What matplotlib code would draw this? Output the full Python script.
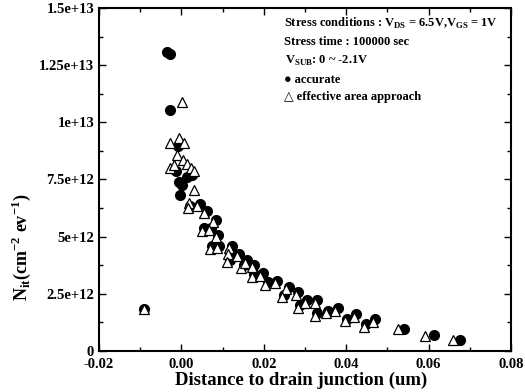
import matplotlib.pyplot as plt
from matplotlib.ticker import MultipleLocator

# accurate (filled circles)
acc_x = [-0.0035, -0.0028, -0.0028, -0.0009, -0.0014, 0.0014, 0.0026, -0.0005, 0.0002, -0.0003, -0.0091,
         0.0022, 0.0044, 0.0061, 0.0083, 0.0056, 0.0073, 0.0090, 0.0075, 0.0092, 0.0122, 0.0119, 0.0117,
         0.0141, 0.0151, 0.0160, 0.0177, 0.0177, 0.0197, 0.0209, 0.0233, 0.0260, 0.0250, 0.0284, 0.0289,
         0.0306, 0.0330, 0.0330, 0.0357, 0.0379, 0.0403, 0.0425, 0.0449, 0.0471, 0.0541, 0.0612, 0.0676]
acc_y = [13.07, 12.99, 10.54, 8.98, 7.87, 7.60, 7.70, 7.37, 7.24, 6.84, 1.84,
         6.36, 6.43, 6.14, 5.75, 5.36, 5.40, 5.09, 4.57, 4.61, 4.61, 4.35, 4.00,
         4.26, 3.74, 3.96, 3.78, 3.35, 3.39, 3.00, 3.08, 2.82, 2.47, 2.56, 1.99,
         2.21, 2.21, 1.64, 1.77, 1.86, 1.42, 1.60, 1.16, 1.38, 0.95, 0.69, 0.49]

# effective area approach (open triangles)
eff_x = [0.0001, -0.0028, -0.0006, 0.0007, -0.0011, 0.0005, 0.0014, 0.0023, 0.0031, -0.0028, -0.0019,
         0.0031, 0.0019, -0.0091,
         0.0016, 0.0038, 0.0055, 0.0077, 0.0050, 0.0067, 0.0084, 0.0069, 0.0086, 0.0116, 0.0113, 0.0111,
         0.0135, 0.0145, 0.0154, 0.0171, 0.0171, 0.0191, 0.0203, 0.0227, 0.0254, 0.0244, 0.0278, 0.0283,
         0.0300, 0.0324, 0.0324, 0.0351, 0.0373, 0.0397, 0.0419, 0.0443, 0.0465, 0.0525, 0.0591, 0.0660]
eff_y = [10.87, 9.08, 9.33, 9.11, 8.57, 8.35, 8.16, 8.01, 7.87, 8.00, 8.13,
         7.04, 6.48, 1.84,
         6.25, 6.32, 6.03, 5.64, 5.25, 5.29, 4.98, 4.46, 4.50, 4.50, 4.24, 3.89,
         4.15, 3.63, 3.85, 3.67, 3.24, 3.28, 2.89, 2.97, 2.71, 2.36, 2.45, 1.88,
         2.10, 2.10, 1.53, 1.66, 1.75, 1.31, 1.49, 1.05, 1.27, 0.95, 0.67, 0.48]

# y values are in units of 1e12
y_ticks = [0, 2.5, 5, 7.5, 10, 12.5, 15]
y_labels = ['0', '2.5e+12', '5e+12', '7.5e+12', '1e+13', '1.25e+13', '1.5e+13']
x_ticks = [-0.02, 0.0, 0.02, 0.04, 0.06, 0.08]
x_labels = ['-0.02', '0.00', '0.02', '0.04', '0.06', '0.08']

plt.rcParams['font.family'] = ['Liberation Serif', 'DejaVu Serif']
plt.rcParams['font.weight'] = 'bold'
plt.rcParams['mathtext.fontset'] = 'custom'
plt.rcParams['mathtext.rm'] = 'Liberation Serif:bold'
plt.rcParams['mathtext.bf'] = 'Liberation Serif:bold'

fig = plt.figure(figsize=(5.25, 3.92), dpi=100)
ax = fig.add_axes([0.1886, 0.1046, 0.7847, 0.875])

ax.plot(acc_x, acc_y, 'o', color='black', markersize=7)
ax.plot(eff_x, eff_y, '^', markerfacecolor='white', markeredgecolor='black',
        markeredgewidth=0.9, markersize=7.5)

ax.set_xlim(-0.02, 0.08)
ax.set_ylim(0, 15)
ax.set_xticks(x_ticks)
ax.set_xticklabels(x_labels)
ax.set_yticks(y_ticks)
ax.set_yticklabels(y_labels)
ax.xaxis.set_minor_locator(MultipleLocator(0.01))
ax.yaxis.set_minor_locator(MultipleLocator(1.25))
ax.tick_params(which='both', direction='in', top=True, right=True, labelsize=10.5, width=1)
ax.tick_params(which='major', length=5)
ax.tick_params(which='minor', length=3)
ax.tick_params(axis='x', pad=5)
for s in ax.spines.values():
    s.set_linewidth(1.5)

fig.text(0.573, 0.03, 'Distance to drain junction (um)', ha='center', va='center', fontsize=13.5)
fig.text(0.04, 0.37, r'N$_{\mathrm{it}}$(cm$^{\mathrm{-2}}$ ev$^{\mathrm{-1}}$)', rotation=90,
         ha='center', va='center', fontsize=13)

fig.text(284 / 525, 1 - 23 / 392, r'Stress conditions : V$_{\mathrm{DS}}$ = 6.5V,V$_{\mathrm{GS}}$ = 1V',
         ha='left', va='center', fontsize=9)
fig.text(284 / 525, 1 - 42 / 392, 'Stress time : 100000 sec', ha='left', va='center', fontsize=9)
fig.text(285 / 525, 1 - 61 / 392, r'V$_{\mathrm{SUB}}$: 0 ~ -2.1V', ha='left', va='center', fontsize=9)
fig.text(284 / 525, 1 - 80 / 392, '● accurate', ha='left', va='center', fontsize=9,
         family=['Liberation Serif', 'DejaVu Sans'])
fig.text(284 / 525, 1 - 97 / 392, '△ effective area approach', ha='left', va='center', fontsize=9,
         family=['Liberation Serif', 'DejaVu Sans'])

plt.savefig('out.png', dpi=100)
